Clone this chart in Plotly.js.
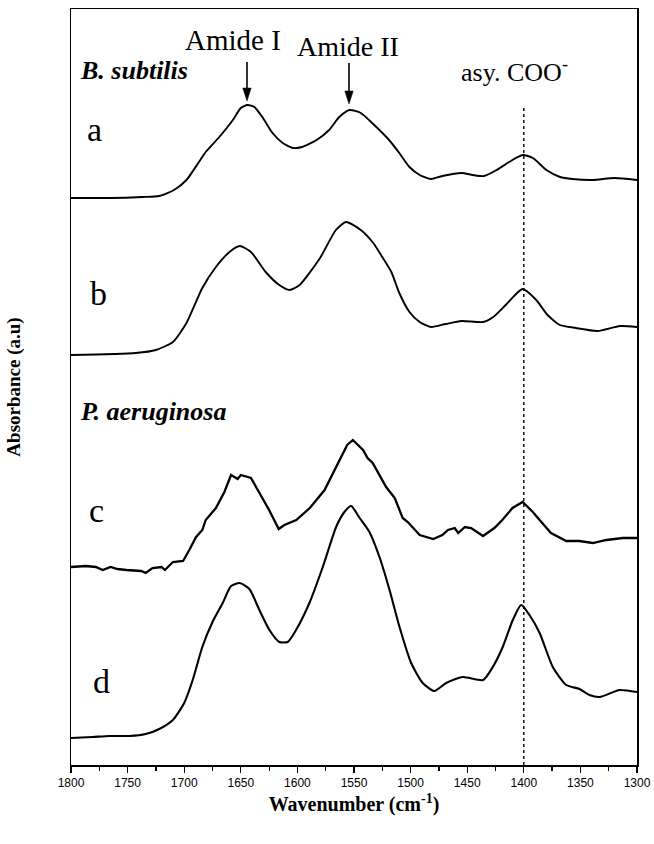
<!DOCTYPE html>
<html>
<head>
<meta charset="utf-8">
<script src="https://cdn.plot.ly/plotly-3.0.1.min.js"></script>
<style>html,body{margin:0;padding:0;background:#fff;}#chart{width:654px;height:844px;}</style>
</head>
<body>
<div id="chart"></div>
<script>
// Wavenumber (cm^-1) and absorbance (a.u., curves offset vertically as in the figure)
const wnA = [1800,1766,1737,1722,1709,1698,1687,1681,1669,1657,1650,1644,1638,1631,1622,1613,1604,1596,1583,1572,1563,1554,1544,1534,1519,1510,1501,1492,1482,1472,1455,1445,1435,1424,1413,1401,1392,1380,1368,1357,1339,1320,1300];
const absA = [5.67,5.67,5.68,5.69,5.75,5.85,6.03,6.13,6.28,6.45,6.57,6.60,6.58,6.48,6.32,6.22,6.17,6.18,6.25,6.35,6.48,6.55,6.52,6.42,6.25,6.12,5.98,5.90,5.86,5.89,5.92,5.90,5.89,5.95,6.03,6.10,6.07,5.95,5.88,5.86,5.85,5.87,5.85];

const wnB = [1800,1743,1725,1710,1698,1684,1672,1660,1651,1641,1628,1616,1607,1598,1580,1566,1557,1544,1533,1525,1517,1510,1501,1492,1482,1469,1455,1436,1427,1416,1401,1389,1379,1368,1354,1335,1315,1300];
const absB = [4.10,4.12,4.15,4.23,4.42,4.77,4.98,5.13,5.19,5.13,4.93,4.80,4.75,4.80,5.07,5.35,5.43,5.35,5.22,5.08,4.93,4.72,4.53,4.43,4.38,4.41,4.44,4.43,4.48,4.60,4.76,4.65,4.50,4.40,4.37,4.34,4.39,4.38];

const wnC = [1800,1787,1778,1772,1765,1759,1751,1738,1734,1728,1720,1717,1710,1701,1695.5,1689.5,1684,1681,1672,1664.5,1658.6,1652.8,1650,1641,1634,1625,1616.5,1611.5,1601,1589,1576,1563,1556,1551,1542,1538,1533.5,1521.6,1514,1507,1502.5,1492,1480,1472,1467,1461,1458,1452,1446.5,1436,1426,1419,1410,1401,1392,1386,1376,1362.5,1351,1339,1327,1312.5,1300];
const absC = [1.98,1.99,1.98,1.95,1.98,1.96,1.95,1.94,1.92,1.97,1.98,1.95,2.03,2.04,2.15,2.28,2.35,2.45,2.57,2.73,2.90,2.86,2.90,2.87,2.73,2.55,2.36,2.40,2.45,2.57,2.75,3.05,3.20,3.25,3.15,3.07,3.02,2.78,2.67,2.47,2.43,2.30,2.26,2.30,2.35,2.37,2.32,2.38,2.37,2.29,2.37,2.45,2.57,2.63,2.53,2.45,2.32,2.24,2.24,2.22,2.25,2.27,2.27];

const wnD = [1800,1781,1766,1748.5,1734,1722,1710,1700,1692.5,1684,1675,1666,1658.6,1651,1642.4,1633.6,1624.7,1615.9,1608.6,1601.2,1589.4,1577.6,1565.8,1558.5,1552.5,1545,1536.4,1527.5,1518.6,1509.8,1499.5,1489.3,1479,1468.6,1454,1436,1427.4,1418.6,1409.7,1402.3,1395,1386,1374.4,1362.5,1350.8,1342,1333,1315.4,1300];
const absD = [0.27,0.28,0.29,0.29,0.31,0.36,0.45,0.62,0.85,1.18,1.43,1.62,1.79,1.82,1.76,1.55,1.35,1.23,1.23,1.35,1.62,1.98,2.38,2.53,2.59,2.47,2.33,2.08,1.75,1.38,1.02,0.82,0.74,0.82,0.88,0.85,0.98,1.18,1.45,1.60,1.50,1.32,0.98,0.80,0.76,0.70,0.68,0.75,0.73];

const xTicks = [1800,1750,1700,1650,1600,1550,1500,1450,1400,1350,1300];
const curveLabels = ["a","b","c","d"];
const markerWn = 1400;

const W = 654, H = 844;
const M = {l:71, r:17, t:9, b:79};
const PW = W - M.l - M.r, PH = H - M.t - M.b;
const px = x => (x - M.l) / PW;
const py = y => (H - M.b - y) / PH;

function tr(x, y, w, shape) {
  return {x:x, y:y, type:'scatter', mode:'lines', showlegend:false, hoverinfo:'skip',
    line:{color:'#000', width:w, shape:shape, smoothing:0.6}};
}
const data = [tr(wnA, absA, 1.9, 'spline'), tr(wnB, absB, 1.9, 'spline'),
              tr(wnC, absC, 2.3, 'linear'), tr(wnD, absD, 2.1, 'spline')];

const serif = 'Liberation Serif, Times New Roman, serif';
function txt(text, x, y, size, opts) {
  return Object.assign({text:text, xref:'paper', yref:'paper', x:px(x), y:py(y),
    showarrow:false, xanchor:'center', yanchor:'middle',
    font:{family:serif, size:size, color:'#000'}}, opts || {});
}
const labelPos = [[94,130],[98,293],[96,511],[101,681]];
const annotations = [
  txt('Amide I', 233, 40, 29),
  txt('Amide II', 348, 46, 28),
  txt('<b><i>B. subtilis</i></b>', 78, 70, 26, {xanchor:'left'}),
  txt('<b><i>P. aeruginosa</i></b>', 78, 412, 26, {xanchor:'left'}),
  txt('asy. COO<sup>-</sup>', 514, 70, 26)
];
curveLabels.forEach((t, i) => annotations.push(txt(t, labelPos[i][0], labelPos[i][1], 34)));

// arrows drawn as shapes (shaft + filled head), positioned in pixels
function arrowShapes(x, yTop, yTip) {
  const headH = 13, half = 4.2;
  return [
    {type:'line', xref:'paper', yref:'paper', x0:px(x), x1:px(x), y0:py(yTop), y1:py(yTip - headH + 2),
     line:{color:'#000', width:1.6}},
    {type:'path', xref:'paper', yref:'paper',
     path:`M ${px(x)} ${py(yTip)} L ${px(x - half)} ${py(yTip - headH)} L ${px(x + half)} ${py(yTip - headH)} Z`,
     fillcolor:'#000', line:{color:'#000', width:0.5}}
  ];
}

const layout = {
  width:W, height:H, margin:M, paper_bgcolor:'#fff', plot_bgcolor:'#fff',
  xaxis:{range:[1800,1300], tickmode:'array', tickvals:xTicks, ticktext:xTicks.map(String),
    ticks:'outside', ticklen:6, tickwidth:1.2, tickcolor:'#000',
    minor:{dtick:25, ticks:'outside', ticklen:4, tickwidth:1.2, tickcolor:'#000'},
    showgrid:false, zeroline:false, showline:true, linecolor:'#000', linewidth:1.5, mirror:true,
    tickfont:{family:'Liberation Sans, Arial, sans-serif', size:12, color:'#000'},
    title:{text:'<b>Wavenumber (cm<sup>-1</sup>)</b>', font:{family:serif, size:20, color:'#000'}, standoff:8}},
  yaxis:{range:[0,7.56], showticklabels:false, ticks:'', showgrid:false, zeroline:false,
    showline:true, linecolor:'#000', linewidth:1.5, mirror:true,
    title:{text:'<b>Absorbance (a.u)</b>', font:{family:serif, size:19, color:'#000'}, standoff:44}},
  shapes:[{type:'line', xref:'x', yref:'paper', x0:markerWn, x1:markerWn, y0:0, y1:py(107),
    line:{color:'#000', width:1.4, dash:'dot'}}]
    .concat(arrowShapes(247, 62, 101), arrowShapes(349, 63, 104)),
  annotations:annotations
};
Plotly.newPlot('chart', data, layout, {staticPlot:true, displayModeBar:false});
</script>
</body>
</html>
